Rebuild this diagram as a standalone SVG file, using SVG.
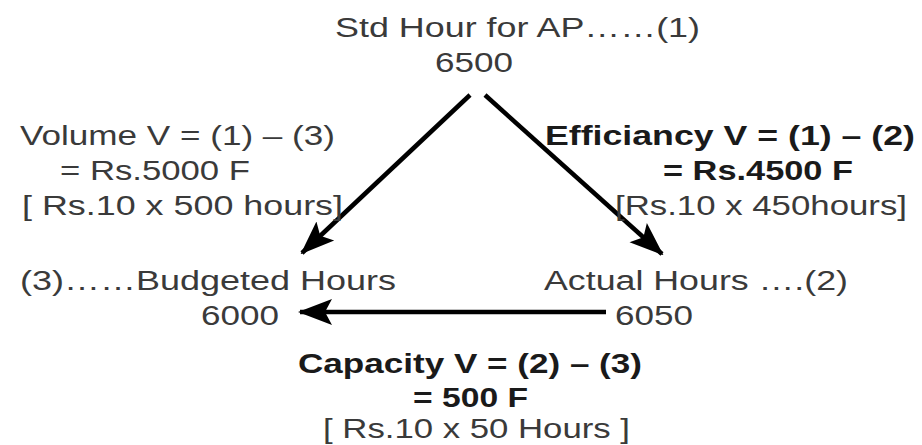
<svg xmlns="http://www.w3.org/2000/svg" width="922" height="445" viewBox="0 0 922 445">
<style>
.t{font-family:"Liberation Sans",Arial,sans-serif;font-size:27px;fill:#3a3a3a}
.b{font-family:"Liberation Sans",Arial,sans-serif;font-size:27px;font-weight:bold;fill:#1a1a1a}
.c{stroke:#000;stroke-width:4.5;fill:none}
</style>
<defs>
<marker id="ah" markerUnits="userSpaceOnUse" markerWidth="34" markerHeight="34" viewBox="0 0 34 34" refX="32" refY="17" orient="auto">
<path d="M0,4 L34,17 L0,30 L7,17 Z" fill="#000"/>
</marker>
</defs>
<rect width="922" height="445" fill="#fff"/>
<g id="connectors">
<line class="c" x1="470" y1="95" x2="302" y2="253" marker-end="url(#ah)"/>
<line class="c" x1="485" y1="95" x2="662" y2="254" marker-end="url(#ah)"/>
<line class="c" x1="606" y1="312" x2="300" y2="312" marker-end="url(#ah)"/>
</g>
<g id="node-std">
<text class="t" x="335" y="37" textLength="365" lengthAdjust="spacingAndGlyphs">Std Hour for AP……(1)</text>
<text class="t" x="435" y="72" textLength="78" lengthAdjust="spacingAndGlyphs">6500</text>
</g>
<g id="node-budgeted">
<text class="t" x="20" y="290" textLength="376" lengthAdjust="spacingAndGlyphs">(3)……Budgeted Hours</text>
<text class="t" x="201" y="325" textLength="78" lengthAdjust="spacingAndGlyphs">6000</text>
</g>
<g id="node-actual">
<text class="t" x="544" y="290" textLength="304" lengthAdjust="spacingAndGlyphs">Actual Hours ….(2)</text>
<text class="t" x="615" y="325" textLength="78" lengthAdjust="spacingAndGlyphs">6050</text>
</g>
<g id="label-volume">
<text class="t" x="20" y="145" textLength="315" lengthAdjust="spacingAndGlyphs">Volume V = (1) – (3)</text>
<text class="t" x="60" y="180" textLength="190" lengthAdjust="spacingAndGlyphs">= Rs.5000 F</text>
<text class="t" x="22" y="215" textLength="321" lengthAdjust="spacingAndGlyphs">[ Rs.10 x 500 hours]</text>
</g>
<g id="label-efficiency">
<text class="b" x="545" y="145" textLength="370" lengthAdjust="spacingAndGlyphs">Efficiancy V = (1) – (2)</text>
<text class="b" x="663" y="180" textLength="190" lengthAdjust="spacingAndGlyphs">= Rs.4500 F</text>
<text class="t" x="615" y="215" textLength="292" lengthAdjust="spacingAndGlyphs">[Rs.10 x 450hours]</text>
</g>
<g id="label-capacity">
<text class="b" x="298" y="373" textLength="344" lengthAdjust="spacingAndGlyphs">Capacity V = (2) – (3)</text>
<text class="b" x="413" y="407" textLength="115" lengthAdjust="spacingAndGlyphs">= 500 F</text>
<text class="t" x="323" y="438" textLength="307" lengthAdjust="spacingAndGlyphs">[ Rs.10 x 50 Hours ]</text>
</g>
</svg>
